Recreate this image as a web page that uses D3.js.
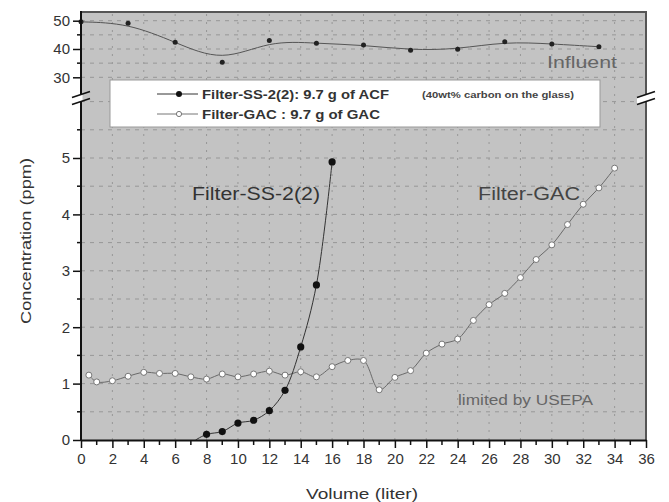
<!doctype html>
<html lang="en">
<head>
  <meta charset="UTF-8">
  <title>Concentration vs Volume</title>
  <style>
    body { margin: 0; background: #fff; }
    #app { width: 669px; height: 502px; }
    text { font-family: Arial, "Liberation Sans", sans-serif; }
  </style>
</head>
<body>
<div id="app"></div>
<script src="https://cdn.jsdelivr.net/npm/d3@7/dist/d3.min.js"></script>
<script>
  // data
  var gacX = [0.5, 1, 2, 3, 4, 5, 6, 7, 8, 9, 10, 11, 12, 13, 14, 15, 16, 17, 18, 19, 20, 21, 22, 23, 24, 25, 26, 27, 28, 29, 30, 31, 32, 33, 34];
  var gacY = [1.15, 1.03, 1.05, 1.13, 1.2, 1.18, 1.18, 1.12, 1.08, 1.17, 1.12, 1.17, 1.22, 1.15, 1.21, 1.12, 1.3, 1.41, 1.41, 0.89, 1.11, 1.23, 1.54, 1.7, 1.79, 2.12, 2.4, 2.6, 2.88, 3.2, 3.46, 3.82, 4.18, 4.47, 4.82];
  // first point is where the fitted curve leaves zero (no marker)
  var ssX = [7.3, 8, 9, 10, 11, 12, 13, 14, 15, 16];
  var ssY = [0, 0.1, 0.15, 0.3, 0.35, 0.52, 0.88, 1.65, 2.75, 4.93];
  var infX = [0, 3, 6, 9, 12, 15, 18, 21, 24, 27, 30, 33];
  var infY = [49.6, 49.1, 42.4, 35.3, 43, 42, 41.4, 39.6, 39.9, 42.6, 41.8, 40.8];
  var xTicks = d3.range(0, 37, 2);
  var yLowTicks = [0, 1, 2, 3, 4, 5];
  var yUpTicks = [30, 40, 50];

  var width = 669, height = 502;
  var pLeft = 81, pRight = 646, pTop = 12, pBottom = 440, breakY = 98;
  var FONT = 'Arial, "Liberation Sans", sans-serif';

  var x = d3.scaleLinear().domain([0, 36]).range([pLeft, pRight]);
  var yLow = d3.scaleLinear().domain([0, 5]).range([pBottom, 158]);
  var yUp = d3.scaleLinear().domain([30, 50]).range([77.3, 20.7]);

  var svg = d3.select('#app').append('svg')
    .attr('width', width)
    .attr('height', height);

  // plot background
  svg.append('rect')
    .attr('x', pLeft).attr('y', pTop)
    .attr('width', pRight - pLeft).attr('height', pBottom - pTop)
    .attr('fill', '#c3c3c3');

  var grid = svg.append('g').attr('stroke', '#979797').attr('stroke-width', 1);
  grid.selectAll('line.v')
    .data(d3.range(2, 36, 2))
    .enter().append('line')
    .attr('class', 'v')
    .attr('x1', d => x(d)).attr('x2', d => x(d))
    .attr('y1', pTop + 2).attr('y2', pBottom)
    .attr('stroke-dasharray', '2,6');
  grid.selectAll('line.hl')
    .data(d3.range(0.5, 6.01, 0.5))
    .enter().append('line')
    .attr('class', 'hl')
    .attr('x1', pLeft).attr('x2', pRight)
    .attr('y1', d => yLow(d)).attr('y2', d => yLow(d))
    .attr('stroke-dasharray', '4,5');
  grid.selectAll('line.hu')
    .data([30, 35, 40, 45, 50])
    .enter().append('line')
    .attr('class', 'hu')
    .attr('x1', pLeft).attr('x2', pRight)
    .attr('y1', d => yUp(d)).attr('y2', d => yUp(d))
    .attr('stroke-dasharray', '4,5');

  // frame top and right
  svg.append('line').attr('x1', pLeft).attr('x2', pRight + 1).attr('y1', pTop).attr('y2', pTop)
    .attr('stroke', '#555').attr('stroke-width', 2);
  svg.append('line').attr('x1', pRight).attr('x2', pRight).attr('y1', pTop).attr('y2', pBottom)
    .attr('stroke', '#555').attr('stroke-width', 2);

  // lines
  var lineInf = d3.line().x(d => x(d[0])).y(d => yUp(d[1])).curve(d3.curveBasis);
  var lineLow = d3.line().x(d => x(d[0])).y(d => yLow(d[1])).curve(d3.curveCatmullRom);

  var infData = d3.zip(infX, infY);
  var gacData = d3.zip(gacX, gacY);
  var ssData = d3.zip(ssX, ssY);

  svg.append('path').datum(infData)
    .attr('d', lineInf).attr('fill', 'none').attr('stroke', '#555').attr('stroke-width', 1);
  svg.append('path').datum(gacData)
    .attr('d', lineLow).attr('fill', 'none').attr('stroke', '#6a6a6a').attr('stroke-width', 1);
  svg.append('path').datum(ssData)
    .attr('d', lineLow).attr('fill', 'none').attr('stroke', '#333').attr('stroke-width', 1);

  svg.selectAll('circle.inf')
    .data(infData).enter().append('circle')
    .attr('class', 'inf')
    .attr('cx', d => x(d[0])).attr('cy', d => yUp(d[1]))
    .attr('r', 2.5).attr('fill', '#222');

  // legend box (drawn over the upper panel grid)
  var lg = svg.append('g');
  lg.append('rect')
    .attr('x', 110).attr('y', 80).attr('width', 490).attr('height', 47)
    .attr('fill', '#fff').attr('stroke', '#999').attr('stroke-width', 1);
  lg.append('line').attr('x1', 157).attr('x2', 198).attr('y1', 94).attr('y2', 94).attr('stroke', '#333');
  lg.append('circle').attr('cx', 179).attr('cy', 94).attr('r', 3).attr('fill', '#111');
  lg.append('line').attr('x1', 157).attr('x2', 198).attr('y1', 114).attr('y2', 114).attr('stroke', '#777');
  lg.append('circle').attr('cx', 179).attr('cy', 114).attr('r', 2.6).attr('fill', '#fff').attr('stroke', '#777');
  lg.append('text').attr('x', 202).attr('y', 98.5)
    .attr('font-size', 12).attr('font-weight', 'bold').attr('fill', '#333')
    .attr('textLength', 187).attr('lengthAdjust', 'spacingAndGlyphs')
    .text('Filter-SS-2(2): 9.7 g of ACF');
  lg.append('text').attr('x', 422).attr('y', 98)
    .attr('font-size', 9).attr('font-weight', 'bold').attr('fill', '#444')
    .attr('textLength', 152).attr('lengthAdjust', 'spacingAndGlyphs')
    .text('(40wt% carbon on the glass)');
  lg.append('text').attr('x', 202).attr('y', 118.5)
    .attr('font-size', 12).attr('font-weight', 'bold').attr('fill', '#333')
    .attr('textLength', 178).attr('lengthAdjust', 'spacingAndGlyphs')
    .text('Filter-GAC : 9.7 g of GAC');

  svg.selectAll('circle.gac')
    .data(gacData).enter().append('circle')
    .attr('class', 'gac')
    .attr('cx', d => x(d[0])).attr('cy', d => yLow(d[1]))
    .attr('r', 3).attr('fill', '#fff').attr('stroke', '#777').attr('stroke-width', 1);
  svg.selectAll('circle.ss')
    .data(ssData.slice(1)).enter().append('circle')
    .attr('class', 'ss')
    .attr('cx', d => x(d[0])).attr('cy', d => yLow(d[1]))
    .attr('r', 3.6).attr('fill', '#111');

  // axes
  var xAxis = svg.append('g').attr('transform', 'translate(0,' + pBottom + ')');
  xAxis.selectAll('line.minor')
    .data(d3.range(1, 36, 2)).enter().append('line')
    .attr('class', 'minor')
    .attr('x1', d => x(d)).attr('x2', d => x(d)).attr('y1', 0).attr('y2', 5)
    .attr('stroke', '#111').attr('stroke-width', 1.5);
  xAxis.call(d3.axisBottom(x).tickValues(xTicks).tickSize(8).tickSizeOuter(0).tickPadding(5))
    .call(g => g.select('.domain').attr('stroke', '#111').attr('stroke-width', 2))
    .call(g => g.selectAll('.tick line').attr('stroke', '#111').attr('stroke-width', 1.5))
    .call(g => g.selectAll('.tick text').attr('font-size', 15).attr('fill', '#333').attr('font-family', FONT));

  var yAxisLow = svg.append('g').attr('transform', 'translate(' + pLeft + ',0)');
  yAxisLow.selectAll('line.minor')
    .data(d3.range(0.5, 6, 1)).enter().append('line')
    .attr('class', 'minor')
    .attr('x1', -4).attr('x2', 0).attr('y1', d => yLow(d)).attr('y2', d => yLow(d))
    .attr('stroke', '#111').attr('stroke-width', 1.5);
  yAxisLow.call(d3.axisLeft(yLow).tickValues(yLowTicks).tickFormat(d3.format('d'))
      .tickSize(8).tickSizeOuter(0).tickPadding(3))
    .call(g => g.select('.domain').remove())
    .call(g => g.selectAll('.tick line').attr('stroke', '#111').attr('stroke-width', 1.5))
    .call(g => g.selectAll('.tick text').attr('font-size', 15).attr('fill', '#333').attr('font-family', FONT));

  var yAxisUp = svg.append('g').attr('transform', 'translate(' + pLeft + ',0)');
  yAxisUp.selectAll('line.minor')
    .data([35, 45]).enter().append('line')
    .attr('class', 'minor')
    .attr('x1', -4).attr('x2', 0).attr('y1', d => yUp(d)).attr('y2', d => yUp(d))
    .attr('stroke', '#111').attr('stroke-width', 1.5);
  yAxisUp.call(d3.axisLeft(yUp).tickValues(yUpTicks).tickFormat(d3.format('d'))
      .tickSize(8).tickSizeOuter(0).tickPadding(3))
    .call(g => g.select('.domain').remove())
    .call(g => g.selectAll('.tick line').attr('stroke', '#111').attr('stroke-width', 1.5))
    .call(g => g.selectAll('.tick text').attr('font-size', 15).attr('fill', '#333').attr('font-family', FONT));

  svg.append('line').attr('x1', pLeft).attr('x2', pLeft).attr('y1', pTop - 1).attr('y2', pBottom + 1)
    .attr('stroke', '#111').attr('stroke-width', 2);

  // axis break marks: a gap between two slanted strokes
  [pLeft, pRight].forEach(function(cx) {
    var x0 = cx - 9, x1 = cx === pLeft ? cx + 1.5 : cx + 9;
    var yAt = function(px, dy) { return breakY + dy - (px - cx) / 3; };
    svg.append('polygon')
      .attr('points', [[x0, yAt(x0, -3.5)], [x1, yAt(x1, -3.5)], [x1, yAt(x1, 3.5)], [x0, yAt(x0, 3.5)]]
        .map(p => p.join(',')).join(' '))
      .attr('fill', '#fff');
    [-3.5, 3.5].forEach(function(dy) {
      svg.append('line').attr('x1', cx - 9).attr('x2', cx + 9)
        .attr('y1', yAt(cx - 9, dy)).attr('y2', yAt(cx + 9, dy))
        .attr('stroke', '#111').attr('stroke-width', 1.5);
    });
  });

  // annotations
  svg.append('text').attr('x', 547).attr('y', 68)
    .attr('font-size', 16).attr('fill', '#666')
    .attr('textLength', 70).attr('lengthAdjust', 'spacingAndGlyphs')
    .text('Influent');
  svg.append('text').attr('x', 192).attr('y', 200)
    .attr('font-size', 18).attr('fill', '#333')
    .attr('textLength', 128).attr('lengthAdjust', 'spacingAndGlyphs')
    .text('Filter-SS-2(2)');
  svg.append('text').attr('x', 478).attr('y', 200)
    .attr('font-size', 18).attr('fill', '#444')
    .attr('textLength', 102).attr('lengthAdjust', 'spacingAndGlyphs')
    .text('Filter-GAC');
  svg.append('text').attr('x', 458).attr('y', 405)
    .attr('font-size', 15).attr('fill', '#666')
    .attr('textLength', 135).attr('lengthAdjust', 'spacingAndGlyphs')
    .text('limited by USEPA');

  // axis titles
  svg.append('text').attr('x', 362).attr('y', 499)
    .attr('text-anchor', 'middle')
    .attr('font-size', 15).attr('fill', '#333')
    .attr('textLength', 112).attr('lengthAdjust', 'spacingAndGlyphs')
    .text('Volume (liter)');
  svg.append('text')
    .attr('transform', 'translate(31,241) rotate(-90)')
    .attr('text-anchor', 'middle')
    .attr('font-size', 15).attr('fill', '#333')
    .attr('textLength', 166).attr('lengthAdjust', 'spacingAndGlyphs')
    .text('Concentration (ppm)');
</script>
</body>
</html>
